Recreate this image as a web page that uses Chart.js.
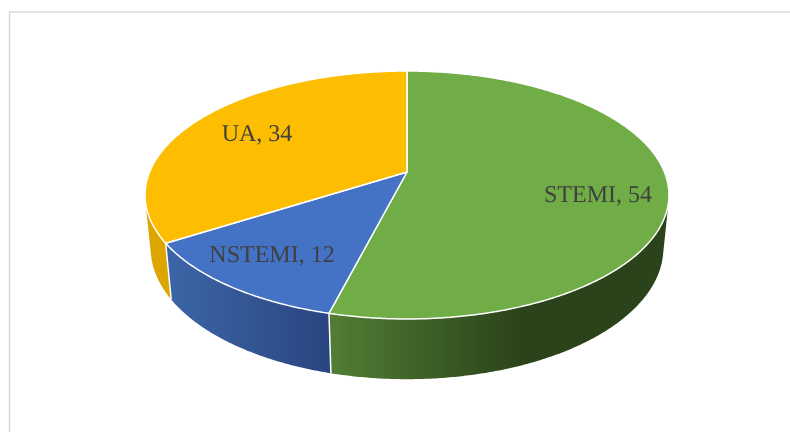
<!DOCTYPE html>
<html>
<head>
<meta charset="utf-8">
<title>Pie</title>
<script src="https://cdn.jsdelivr.net/npm/chart.js@4"></script>
<style>
  html, body { margin: 0; padding: 0; background: #fff; }
  canvas { display: block; }
</style>
</head>
<body>
<canvas id="pie-chart" width="790" height="432"></canvas>
<script>
  // Data for the chart
  const categories = ["STEMI", "NSTEMI", "UA"];
  const values = [54, 12, 34];

  const topColors = ["#70ad47", "#4472c4", "#fdbd00"];
  // left and right colour of the side wall gradient
  const wallColors = [
    ["#507c33", "#2b431a", 335, 520],
    ["#3c66a8", "#2a4580", 165, 330],
    ["#dca500", "#dca500", 145, 172]
  ];
  // where each label goes: centre x, baseline y
  const labelSpots = [[598, 202], [272, 262], [257, 141]];

  // Tilted disc seen in perspective, u and v are on the unit circle
  const centerX = 407, centerY = 172;
  const spreadX = 257.4, spreadY = 87.8, tilt = -0.1855;
  const drop = 57, shrink = 0.021;

  function rimPoint(angle, lower) {
    const u = Math.cos(angle), v = Math.sin(angle);
    const w = 1 + tilt * v + (lower ? shrink : 0);
    return {
      x: centerX + spreadX * u / w,
      y: (centerY + spreadY * v + (lower ? drop : 0)) / w
    };
  }

  function rimAngles(start, end) {
    const list = [];
    const steps = Math.ceil((end - start) / 0.008);
    for (let i = 0; i <= steps; i++) {
      list.push(start + (end - start) * i / steps);
    }
    return list;
  }

  const tiltedPie = {
    id: "tiltedPie",
    beforeDraw(chart) {
      // grey frame, open at the bottom and right like the picture
      const ctx = chart.ctx;
      ctx.save();
      ctx.strokeStyle = "#d9d9d9";
      ctx.lineWidth = 1.5;
      ctx.beginPath();
      ctx.moveTo(9.5, 432);
      ctx.lineTo(9.5, 12);
      ctx.lineTo(790, 12);
      ctx.stroke();
      ctx.restore();
    },
    beforeDatasetDraw(chart) {
      const ctx = chart.ctx;
      const arcs = chart.getDatasetMeta(0).data;
      ctx.save();
      ctx.lineJoin = "round";

      // side walls first, the top covers whatever is behind it.
      // many quads in one path so the straight edge at the sides comes out
      [2, 0, 1].forEach(function (i) {
        const angles = rimAngles(arcs[i].startAngle, arcs[i].endAngle);
        const look = wallColors[i];
        const grad = ctx.createLinearGradient(look[2], 0, look[3], 0);
        grad.addColorStop(0, look[0]);
        grad.addColorStop(1, look[1]);
        ctx.beginPath();
        for (let k = 0; k < angles.length - 1; k++) {
          let quad = [
            rimPoint(angles[k], false), rimPoint(angles[k + 1], false),
            rimPoint(angles[k + 1], true), rimPoint(angles[k], true)
          ];
          let area = 0;
          quad.forEach(function (p, n) {
            const q = quad[(n + 1) % 4];
            area += p.x * q.y - q.x * p.y;
          });
          if (area < 0) quad.reverse(); // keep the winding the same or they cancel
          ctx.moveTo(quad[0].x, quad[0].y);
          ctx.lineTo(quad[1].x, quad[1].y);
          ctx.lineTo(quad[2].x, quad[2].y);
          ctx.lineTo(quad[3].x, quad[3].y);
          ctx.closePath();
        }
        ctx.fillStyle = grad;
        ctx.fill();
      });

      // white seams where the walls meet
      arcs.forEach(function (arc) {
        const up = rimPoint(arc.startAngle, false), down = rimPoint(arc.startAngle, true);
        ctx.strokeStyle = "#fff";
        ctx.lineWidth = 1.5;
        ctx.beginPath();
        ctx.moveTo(up.x, up.y);
        ctx.lineTo(down.x, down.y);
        ctx.stroke();
      });

      // top of the slices
      arcs.forEach(function (arc, i) {
        ctx.beginPath();
        ctx.moveTo(centerX, centerY);
        rimAngles(arc.startAngle, arc.endAngle).forEach(function (a) {
          const p = rimPoint(a, false);
          ctx.lineTo(p.x, p.y);
        });
        ctx.closePath();
        ctx.fillStyle = topColors[i];
        ctx.fill();
        ctx.strokeStyle = "#fff";
        ctx.lineWidth = 1.5;
        ctx.stroke();
      });

      // data labels
      ctx.font = '24px "Liberation Serif"';
      ctx.textRendering = "geometricPrecision";
      ctx.fillStyle = "#404040";
      ctx.textAlign = "center";
      ctx.textBaseline = "alphabetic";
      categories.forEach(function (name, i) {
        ctx.fillText(name + ", " + values[i], labelSpots[i][0], labelSpots[i][1]);
      });

      ctx.restore();
      return false; // the flat native arcs are not wanted
    }
  };

  const ctx = document.getElementById("pie-chart").getContext("2d");
  const chart = new Chart(ctx, {
    type: "pie",
    data: {
      labels: categories,
      datasets: [{
        data: values,
        backgroundColor: topColors
      }]
    },
    options: {
      responsive: false,
      animation: false,
      plugins: {
        legend: { display: false },
        tooltip: { enabled: false }
      }
    },
    plugins: [tiltedPie]
  });
</script>
</body>
</html>
